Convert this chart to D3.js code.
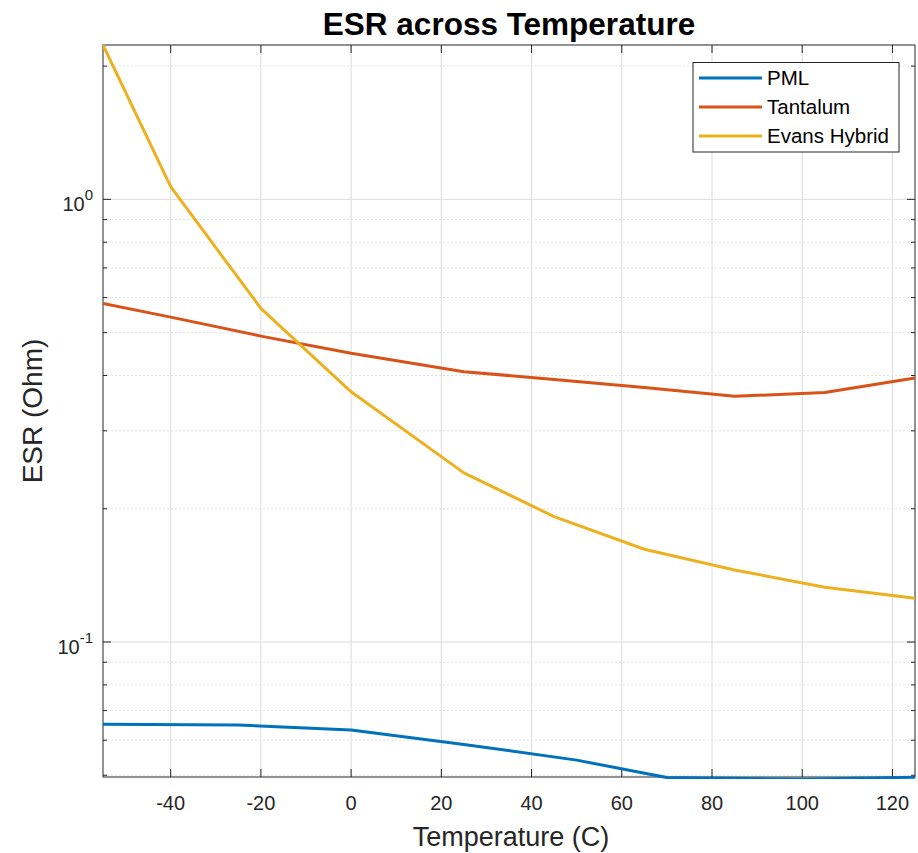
<!DOCTYPE html>
<html><head><meta charset="utf-8">
<script src="https://cdn.jsdelivr.net/npm/d3@7"></script>
<style>
html,body{margin:0;padding:0;background:#fff;}
svg{display:block;font-family:"Liberation Sans",Arial,Helvetica,sans-serif;}
</style></head>
<body>
<div id="chart"></div>
<script>
// ---- data ----
const seriesNames = ["PML", "Tantalum", "Evans Hybrid"];
const pmlTemps = [-55, -25, 0, 25, 50, 70, 100, 125];
const pmlESR   = [0.0652, 0.0649, 0.0633, 0.0587, 0.0541, 0.0494, 0.0490, 0.0495];
const tanTemps = [-55, -40, -20, 0, 25, 45, 65, 85, 105, 125];
const tanESR   = [0.582, 0.542, 0.491, 0.449, 0.408, 0.392, 0.376, 0.359, 0.366, 0.395];
const evTemps  = [-55, -40, -20, 0, 25, 45, 65, 85, 105, 125];
const evESR    = [2.232, 1.068, 0.567, 0.3675, 0.241, 0.192, 0.162, 0.1455, 0.133, 0.1255];
const xTicks = [-40, -20, 0, 20, 40, 60, 80, 100, 120];
const xLimits = [-55, 125];
const yLimits = [0.04955, 2.232];
const yMajorTicks = [0.1, 1];
const yMinorTicks = [0.05, 0.06, 0.07, 0.08, 0.09, 0.2, 0.3, 0.4, 0.5, 0.6, 0.7, 0.8, 0.9, 2];
const titleText = "ESR across Temperature";
const xLabelText = "Temperature (C)";
const yLabelText = "ESR (Ohm)";

// ---- layout ----
const W = 918, H = 853;
const L = 103, R = 915, T = 45, B = 777;
const colors = ["#0072BD", "#D95319", "#EDB120"];
const axisColor = "#262626";

const svg = d3.select("#chart").append("svg").attr("width", W).attr("height", H);

const x = d3.scaleLinear().domain(xLimits).range([L, R]);
const y = d3.scaleLog().domain(yLimits).range([B, T]);

svg.append("defs").append("clipPath").attr("id", "clip")
  .append("rect").attr("x", L).attr("y", T - 1).attr("width", R - L + 1).attr("height", B - T + 3);

// grid
const grid = svg.append("g");
grid.selectAll(".gx").data(xTicks).join("line")
  .attr("x1", d => x(d)).attr("x2", d => x(d)).attr("y1", T).attr("y2", B)
  .attr("stroke", "#dcdcdc").attr("stroke-width", 1);
grid.selectAll(".gym").data(yMinorTicks).join("line")
  .attr("x1", L).attr("x2", R).attr("y1", d => y(d)).attr("y2", d => y(d))
  .attr("stroke", "#e2e2e2").attr("stroke-width", 1).attr("stroke-dasharray", "2,2");
grid.selectAll(".gy").data(yMajorTicks).join("line")
  .attr("x1", L).attr("x2", R).attr("y1", d => y(d)).attr("y2", d => y(d))
  .attr("stroke", "#dcdcdc").attr("stroke-width", 1);

// axes box and ticks (MATLAB style: ticks inward, box on)
const ax = svg.append("g");
const majLen = 8, minLen = 4;
xTicks.forEach(d => {
  ax.append("line").attr("x1", x(d)).attr("x2", x(d)).attr("y1", B).attr("y2", B - majLen).attr("stroke", axisColor);
  ax.append("line").attr("x1", x(d)).attr("x2", x(d)).attr("y1", T).attr("y2", T + majLen).attr("stroke", axisColor);
});
yMajorTicks.forEach(d => {
  ax.append("line").attr("x1", L).attr("x2", L + majLen).attr("y1", y(d)).attr("y2", y(d)).attr("stroke", axisColor);
  ax.append("line").attr("x1", R).attr("x2", R - majLen).attr("y1", y(d)).attr("y2", y(d)).attr("stroke", axisColor);
});
yMinorTicks.forEach(d => {
  ax.append("line").attr("x1", L).attr("x2", L + minLen).attr("y1", y(d)).attr("y2", y(d)).attr("stroke", axisColor);
  ax.append("line").attr("x1", R).attr("x2", R - minLen).attr("y1", y(d)).attr("y2", y(d)).attr("stroke", axisColor);
});
ax.append("rect").attr("x", L).attr("y", T).attr("width", R - L).attr("height", B - T)
  .attr("fill", "none").attr("stroke", axisColor).attr("stroke-width", 1);

// lines
const series = [
  {name: seriesNames[0], t: pmlTemps, v: pmlESR},
  {name: seriesNames[1], t: tanTemps, v: tanESR},
  {name: seriesNames[2], t: evTemps, v: evESR}
];
const line = d3.line().x(d => x(d[0])).y(d => y(d[1]));
const lines = svg.append("g").attr("clip-path", "url(#clip)");
series.forEach((s, i) => {
  lines.append("path").datum(s.t.map((t, j) => [t, s.v[j]]))
    .attr("d", line).attr("fill", "none").attr("stroke", colors[i])
    .attr("stroke-width", 3).attr("stroke-linejoin", "round");
});

// x tick labels
svg.append("g").selectAll("text").data(xTicks).join("text")
  .attr("x", d => x(d)).attr("y", B + 33).attr("text-anchor", "middle")
  .attr("font-size", 20).attr("fill", axisColor).text(d => d);

// y tick labels 10^n
yMajorTicks.forEach(d => {
  const e = Math.round(Math.log10(d));
  const g = svg.append("text").attr("x", L - 10).attr("y", y(d) + 12)
    .attr("text-anchor", "end").attr("fill", axisColor).attr("font-size", 20);
  g.append("tspan").text("10");
  g.append("tspan").attr("font-size", 15).attr("dy", -11).text(String(e));
});

// axis labels
svg.append("text").attr("x", 511).attr("y", 846).attr("text-anchor", "middle")
  .attr("font-size", 27).attr("fill", axisColor).text(xLabelText);
svg.append("text").attr("transform", `translate(42,${(T + B) / 2}) rotate(-90)`)
  .attr("text-anchor", "middle").attr("font-size", 28).attr("fill", axisColor).text(yLabelText);

// title
svg.append("text").attr("x", 509).attr("y", 35).attr("text-anchor", "middle")
  .attr("font-size", 31.5).attr("font-weight", "bold").attr("fill", "#000").text(titleText);

// legend
const lg = svg.append("g");
lg.append("rect").attr("x", 693).attr("y", 62.5).attr("width", 206).attr("height", 89.5)
  .attr("fill", "#fff").attr("stroke", axisColor).attr("stroke-width", 1);
series.forEach((s, i) => {
  const yy = 78 + i * 29;
  lg.append("line").attr("x1", 699).attr("x2", 762).attr("y1", yy).attr("y2", yy)
    .attr("stroke", colors[i]).attr("stroke-width", 3);
  lg.append("text").attr("x", 767).attr("y", yy + 7).attr("font-size", 20.5)
    .attr("fill", "#000").text(s.name);
});
</script>
</body></html>
